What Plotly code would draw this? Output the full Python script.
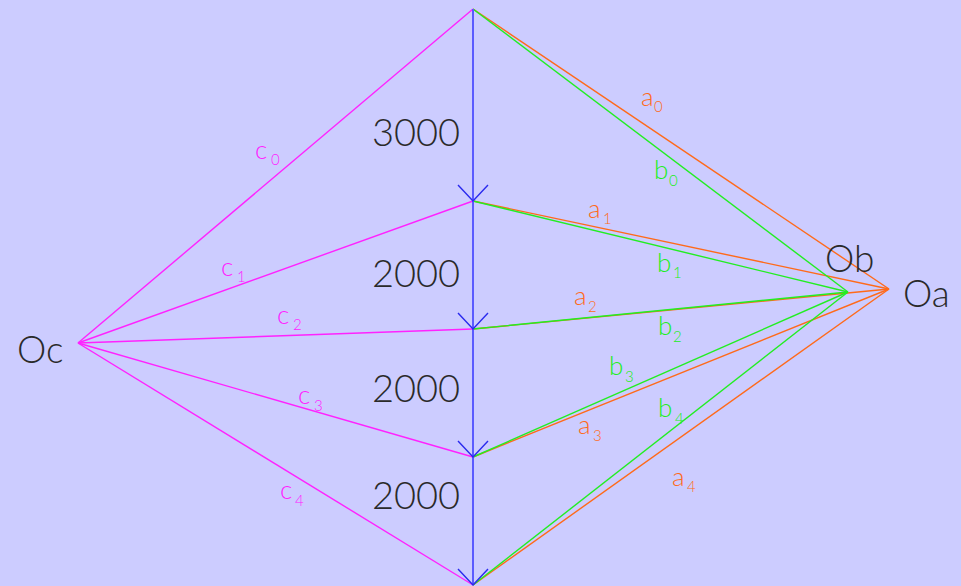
import plotly.graph_objects as go

# ---- data (force polygon) ----
loads = [3000, 2000, 2000, 2000]          # vertical loads, top to bottom
load_labels = ["3000", "2000", "2000", "2000"]
pole_names = ["Oa", "Ob", "Oc"]
pole_x = [6500, 5859, -6172]              # horizontal offset of each pole
pole_depth = [4375, 4422, 5219]           # depth of each pole below top node
ray_letters = ["a", "b", "c"]
ray_colors = ["#ff6a1a", "#22ee22", "#ff22ff"]

W, H = 961, 586
SCALE = 0.064          # px per unit
X0_PX, Y0_PX = 473, 9  # pixel position of top node

def px2x(px):
    return (px - X0_PX) / SCALE

def px2y(py):
    return -(py - Y0_PX) / SCALE

# cumulative nodes
nodes = [0]
for L in loads:
    nodes.append(nodes[-1] + L)

fig = go.Figure()

# rays from poles to nodes
for pi, (px_, pd_) in enumerate(zip(pole_x, pole_depth)):
    for n in nodes:
        fig.add_trace(go.Scatter(x=[px_, 0], y=[-pd_, -n], mode="lines",
                                 line=dict(color=ray_colors[pi], width=1.4),
                                 hoverinfo="skip", showlegend=False))

# vertical load line
fig.add_trace(go.Scatter(x=[0, 0], y=[-nodes[0], -nodes[-1]], mode="lines",
                         line=dict(color="#5b5bff", width=2),
                         hoverinfo="skip", showlegend=False))

# arrowheads at each lower node
ah_dx, ah_dy = 15 / SCALE, 16 / SCALE
for n in nodes[1:]:
    fig.add_trace(go.Scatter(x=[-ah_dx, 0, ah_dx], y=[-n + ah_dy, -n, -n + ah_dy],
                             mode="lines", line=dict(color="#2a2aee", width=1.4),
                             hoverinfo="skip", showlegend=False))

FONT = "Lato"
TXT = "#2a2a2a"
WT = 300
ann = []
# load labels (centered between nodes, left of line)
load_label_px = [(416, 131), (416, 272), (416, 387), (416, 494)]
for t, (lx, ly) in zip(load_labels, load_label_px):
    ann.append(dict(x=px2x(lx), y=px2y(ly), text=t, showarrow=False,
                    font=dict(family=FONT, size=38, color=TXT, weight=WT),
                    xanchor="center", yanchor="middle"))

# pole labels
pole_label_px = [(926, 292), (849, 257), (40, 348)]
for t, (lx, ly) in zip(pole_names, pole_label_px):
    ann.append(dict(x=px2x(lx), y=px2y(ly), text=t, showarrow=False,
                    font=dict(family=FONT, size=37, color=TXT, weight=WT),
                    xanchor="center", yanchor="middle"))

# ray labels: letter centre and subscript centre in pixels
ray_label_px = {
    "a": [((647, 99), (658, 106)), ((594, 211), (607, 218)), ((580, 298), (592, 306)),
          ((584, 427), (597, 435)), ((678, 479), (691, 486))],
    "b": [((661, 172), (673, 180)), ((664, 265), (677, 272)), ((665, 328), (677, 336)),
          ((616, 368), (629, 376)), ((665, 410), (679, 418))],
    "c": [((261, 152), (275, 159)), ((227, 269), (241, 276)), ((283, 317), (297, 324)),
          ((304, 397), (318, 405)), ((286, 492), (299, 500))],
}
for pi, letter in enumerate(ray_letters):
    for i, ((lx, ly), (sx, sy)) in enumerate(ray_label_px[letter]):
        ann.append(dict(x=px2x(lx), y=px2y(ly - 3), text=letter, showarrow=False,
                        font=dict(family=FONT, size=26, color=ray_colors[pi], weight=WT),
                        xanchor="center", yanchor="middle"))
        ann.append(dict(x=px2x(sx), y=px2y(sy), text=str(i), showarrow=False,
                        font=dict(family=FONT, size=15, color=ray_colors[pi], weight=WT),
                        xanchor="center", yanchor="middle"))

fig.update_layout(
    width=W, height=H,
    margin=dict(l=0, r=0, t=0, b=0),
    paper_bgcolor="#ccccff", plot_bgcolor="#ccccff",
    xaxis=dict(range=[px2x(0), px2x(W)], visible=False, fixedrange=True),
    yaxis=dict(range=[px2y(H), px2y(0)], visible=False, fixedrange=True),
    annotations=ann,
    showlegend=False,
)

fig.write_html("out.html",
               config={"displayModeBar": False, "staticPlot": True},
               post_script="document.body.style.margin='0';"
                           "document.body.style.background='#ccccff';"
                           "document.body.style.overflow='hidden';")
